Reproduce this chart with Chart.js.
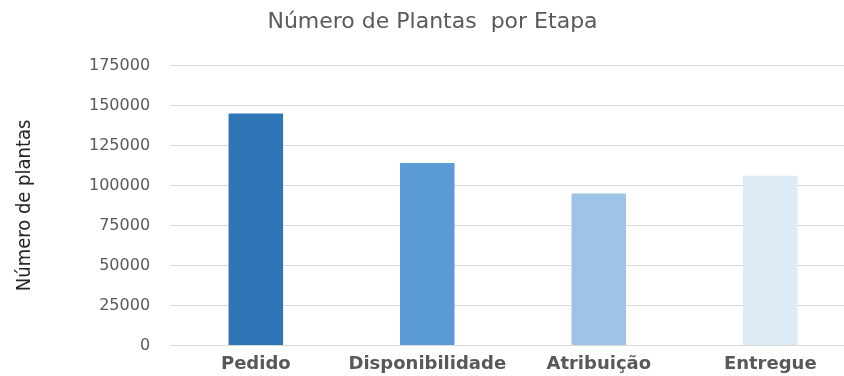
<!DOCTYPE html>
<html lang="pt">
<head>
<meta charset="utf-8">
<title>Número de Plantas por Etapa</title>
<script src="https://cdn.jsdelivr.net/npm/chart.js@4/dist/chart.umd.min.js"></script>
<style>
    html, body { margin: 0; padding: 0; background: #fff; overflow: hidden; }
    #wrap { position: relative; width: 858px; height: 387px; }
</style>
</head>
<body>
<div id="wrap"><canvas id="plantsChart"></canvas></div>
<script>
// Data
const etapas = ['Pedido', 'Disponibilidade', 'Atribuição', 'Entregue'];
const plantas = [145000, 114000, 95000, 106000];
const barColors = ['#2E75B6', '#5B9BD5', '#9DC3E6', '#DDEBF7'];
const yTicks = [0, 25000, 50000, 75000, 100000, 125000, 150000, 175000];

const ctx = document.getElementById('plantsChart').getContext('2d');

new Chart(ctx, {
    type: 'bar',
    data: {
        labels: etapas,
        datasets: [{
            label: 'Número de plantas',
            data: plantas,
            backgroundColor: barColors,
            borderWidth: 0,
            barPercentage: 0.318,
            categoryPercentage: 1
        }]
    },
    options: {
        responsive: true,
        maintainAspectRatio: false,
        animation: false,
        layout: {
            padding: { left: 9, right: 2, top: 0, bottom: 4 }
        },
        plugins: {
            legend: { display: false },
            tooltip: { enabled: false },
            title: {
                display: true,
                text: 'Número de Plantas  por Etapa',
                color: '#595959',
                font: { family: 'DejaVu Sans', size: 22, weight: 'normal' },
                padding: { top: 9, bottom: 30 }
            }
        },
        scales: {
            y: {
                min: yTicks[0],
                max: yTicks[yTicks.length - 1],
                afterBuildTicks: scale => {
                    scale.ticks = yTicks.map(v => ({ value: v }));
                },
                ticks: {
                    color: '#595959',
                    font: { family: 'DejaVu Sans', size: 16 },
                    padding: 20,
                    callback: v => String(v)
                },
                grid: {
                    color: '#D9D9D9',
                    lineWidth: 1,
                    drawTicks: false
                },
                border: { display: false },
                title: {
                    display: true,
                    text: 'Número de plantas',
                    color: '#262626',
                    font: { family: 'DejaVu Sans Condensed', size: 20 },
                    padding: { top: 4, bottom: 32 }
                }
            },
            x: {
                ticks: {
                    color: '#595959',
                    font: { family: 'DejaVu Sans', size: 18, weight: 'bold' },
                    padding: 8
                },
                grid: { display: false, drawTicks: false },
                border: { display: false }
            }
        }
    }
});
</script>
</body>
</html>
